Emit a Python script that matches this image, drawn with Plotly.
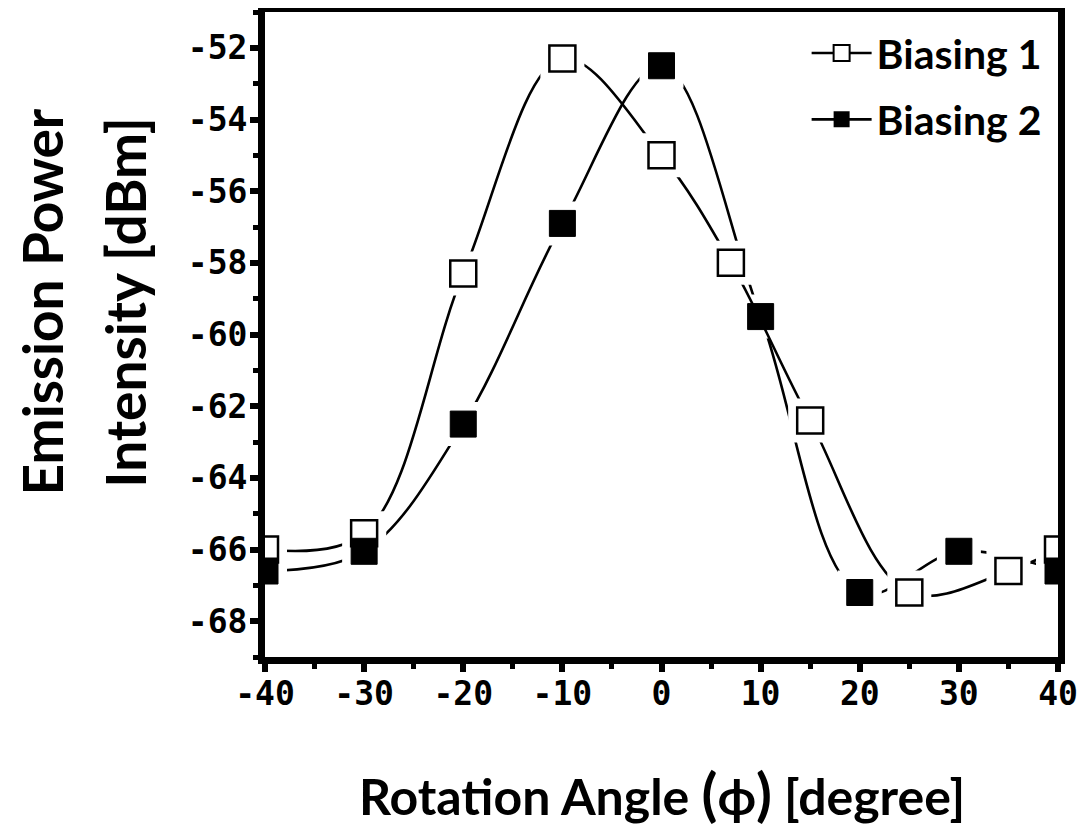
import plotly.graph_objects as go

# Data
angles1 = [-40, -30, -20, -10, 0, 7, 15, 25, 35, 40]
power1 = [-66.0, -65.55, -58.3, -52.3, -55.0, -58.0, -62.4, -67.2, -66.6, -66.0]
angles2 = [-40, -30, -20, -10, 0, 10, 20, 30, 40]
power2 = [-66.6, -66.05, -62.5, -56.9, -52.5, -59.5, -67.2, -66.05, -66.6]
names = ["Biasing 1", "Biasing 2"]
x_ticks = [-40, -30, -20, -10, 0, 10, 20, 30, 40]
y_ticks = [-68, -66, -64, -62, -60, -58, -56, -54, -52]

TXT = "Lato"
MONO = "DejaVu Sans Mono"
LW = 2.6
MS = 26
HALO = 44

fig = go.Figure()

# Series 2 line (with legend)
fig.add_trace(go.Scatter(
    x=angles2, y=power2, mode="lines+markers", name=names[1],
    line=dict(color="black", width=LW, shape="spline", smoothing=1.0),
    marker=dict(symbol="square", size=22, color="black"),
    legend="legend2"))
fig.add_trace(go.Scatter(
    x=angles2, y=power2, mode="markers", showlegend=False, hoverinfo="skip",
    marker=dict(symbol="square", size=HALO, color="white", line=dict(width=0))))
# Series 1 line (with legend)
fig.add_trace(go.Scatter(
    x=angles1, y=power1, mode="lines+markers", name=names[0],
    line=dict(color="black", width=LW, shape="spline", smoothing=1.0),
    marker=dict(symbol="square", size=22, color="white",
                line=dict(color="black", width=2)),
    legend="legend"))
fig.add_trace(go.Scatter(
    x=angles1, y=power1, mode="markers", showlegend=False, hoverinfo="skip",
    marker=dict(symbol="square", size=HALO, color="white", line=dict(width=0))))
# Markers on top
fig.add_trace(go.Scatter(
    x=angles1, y=power1, mode="markers", showlegend=False,
    marker=dict(symbol="square-open", size=MS, color="black",
                line=dict(color="black", width=2.5))))
fig.add_trace(go.Scatter(
    x=angles2, y=power2, mode="markers", showlegend=False,
    marker=dict(symbol="square", size=MS, color="black",
                line=dict(color="black", width=1))))

axis_common = dict(
    showgrid=False, zeroline=False, showline=True, linecolor="black",
    linewidth=7, mirror=True, ticks="outside", tickcolor="black",
    ticklen=8, tickwidth=6, automargin=False,
    tickfont=dict(family=MONO, size=33, color="black", weight="bold"),
)

fig.update_xaxes(
    range=[-40, 40], tickvals=x_ticks, ticktext=[str(v) for v in x_ticks],
    ticklabelstandoff=-7,
    minor=dict(ticks="outside", dtick=5, ticklen=5, tickwidth=5, tickcolor="black"),
    **axis_common)
fig.update_yaxes(
    range=[-69, -51], tickvals=y_ticks, ticktext=[str(v) for v in y_ticks],
    ticklabelstandoff=-4,
    minor=dict(ticks="outside", dtick=1, ticklen=5, tickwidth=5, tickcolor="black"),
    **axis_common)

leg_font = dict(family=TXT, size=41, color="black", weight="bold")
fig.update_layout(
    width=1081, height=819,
    margin=dict(l=257, r=31, t=4, b=170, autoexpand=False),
    paper_bgcolor="white", plot_bgcolor="white",
    showlegend=True,
    legend=dict(x=0.683, y=0.936, xanchor="left", yanchor="middle",
                font=leg_font, bgcolor="rgba(0,0,0,0)", itemwidth=60),
    legend2=dict(x=0.683, y=0.833, xanchor="left", yanchor="middle",
                 font=leg_font, bgcolor="rgba(0,0,0,0)", itemwidth=60),
    annotations=[
        dict(text="Rotation Angle <span style='font-size:58px'>(</span>ϕ<span style='font-size:58px'>)</span> [degree]",
             xref="paper", yref="paper", x=0.5, y=-0.21, xanchor="center", yanchor="middle",
             showarrow=False, font=dict(family=TXT, size=50, color="black", weight="bold")),
        dict(text="Emission Power", textangle=-90,
             xref="paper", yref="paper", x=-0.281, y=0.55, xanchor="center", yanchor="middle",
             showarrow=False,
             font=dict(family=TXT, size=55, color="black", weight="bold")),
        dict(text="Intensity [dBm]", textangle=-90,
             xref="paper", yref="paper", x=-0.176, y=0.55, xanchor="center", yanchor="middle",
             showarrow=False, font=dict(family=TXT, size=55, color="black", weight="bold")),
    ],
)

fig.write_html("out.html")
